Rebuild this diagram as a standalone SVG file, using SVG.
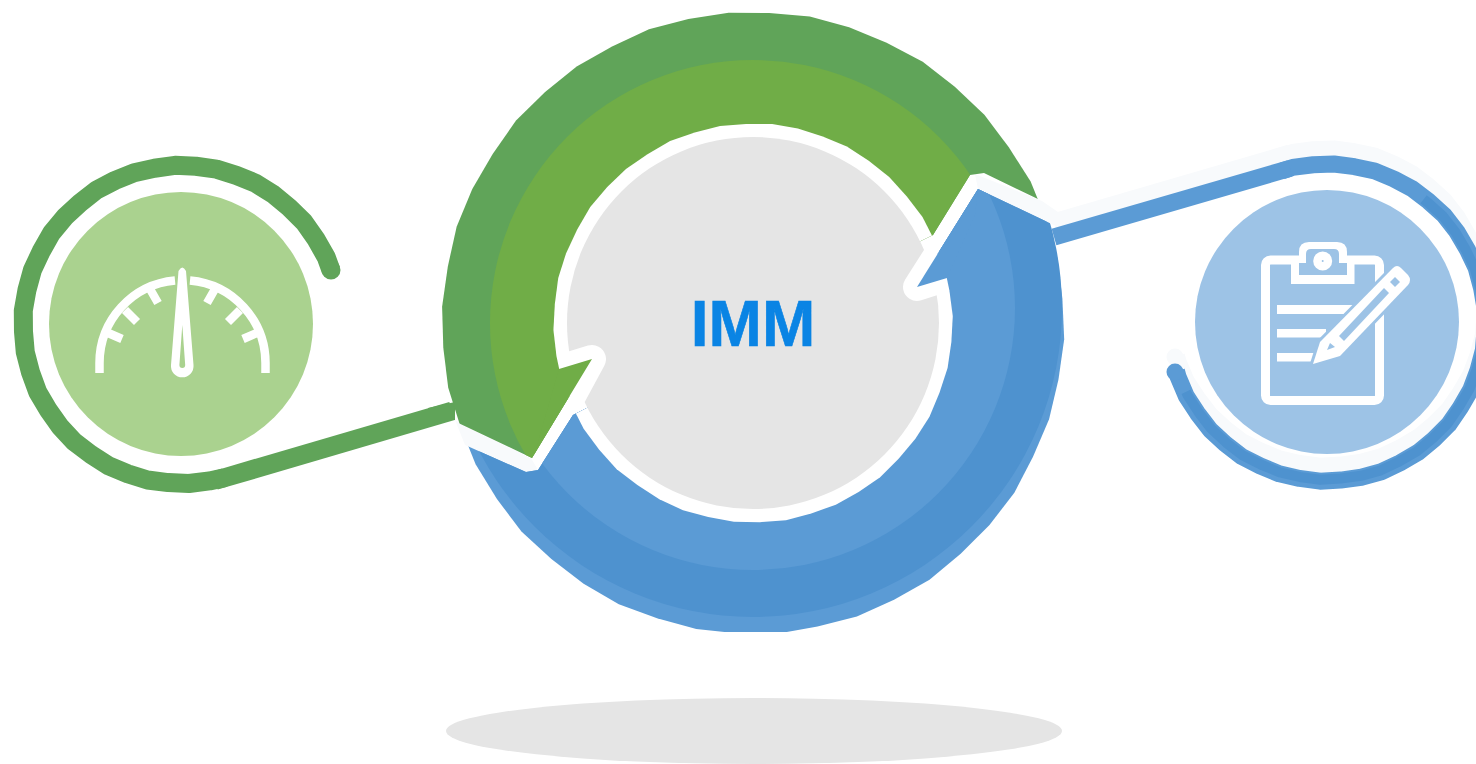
<svg xmlns="http://www.w3.org/2000/svg" width="1476" height="764" viewBox="0 0 1476 764">
<style>
.ring{fill:none;stroke-linejoin:round}
.w{fill:#fff}
.ws{fill:none;stroke:#fff}
.bg{fill:#9dc3e6}
.pale{fill:#f8fafc}
</style>
<defs>
<path id="wob" d="M100.200,0 L99.040,13.040 96.690,25.910 92.200,38.190 86.770,50.100 79.340,60.880 70.570,70.570 61,79.500 49.950,86.520 38.310,92.480 25.830,96.400 13.080,99.340 0,99.900 -13.060,99.240 -25.830,96.400 -38.350,92.570 -50,86.600 -60.760,79.180 -70.850,70.850 -79.260,60.820 -86.690,50.050 -92.200,38.190 -96.780,25.930 -99.040,13.040 -100.100,0 -98.940,-13.020 -96.780,-25.930 -92.390,-38.270 -86.430,-49.900 -79.500,-61 -70.640,-70.640 -60.940,-79.420 -49.900,-86.430 -38.350,-92.570 -25.860,-96.490 -13.060,-99.240 0,-99.800 13.080,-99.340 25.880,-96.590 38.190,-92.200 50.100,-86.770 60.820,-79.260 70.780,-70.780 79.180,-60.760 86.770,-50.100 92.300,-38.230 96.690,-25.910 98.940,-13.020 Z"/>
<clipPath id="gc"><path d="M970,175 L984,173 L1040,200 L1090,224 L1090,-20 L400,-20 L400,420 L452,420 L532,458 L592,359 L753,323 L933,235 Z"/></clipPath>
<clipPath id="bc"><path d="M978,189 L917,287 L753,323 L573,415 L538,470 L526,472 L400,416 L400,632 L1100,632 L1100,247 Z"/></clipPath>
<clipPath id="lr"><path d="M182,324.500 L558,188 L558,-200 L-200,-200 L-200,900 L345,907 Z"/></clipPath>
<clipPath id="rr"><path d="M1327,322.500 L719,520 L719,900 L1600,900 L1600,-300 L1147,-285 Z"/></clipPath>
<clipPath id="rd"><path d="M1327,322.500 L763,600 L763,900 L1800,900 L1800,-172 L1715,-172 Z"/></clipPath>
<clipPath id="rp"><path d="M1327,307.500 L719,505 L719,900 L1600,900 L1600,-300 L1147,-300 Z"/></clipPath>
</defs>
<ellipse id="shadow" cx="754" cy="731" rx="308" ry="33" fill="#e5e5e5"/>
<g id="connectors">
<g clip-path="url(#lr)"><use href="#wob" class="ring" stroke="#60a459" stroke-width="11.950" transform="translate(182,324.500) rotate(20) scale(1.590)"/></g>
<circle cx="331" cy="270" r="9.500" fill="#60a459"/>
<path id="left-connector" fill="none" stroke="#60a459" stroke-width="19" d="M215,480.500 L452,411"/>
<path fill="#60a459" d="M428,408 L455,402 L455,420 L428,420 Z"/>
<g clip-path="url(#rp)"><use href="#wob" class="ring" stroke="#f8fafc" stroke-width="10.700" transform="translate(1327,307.500) rotate(40) scale(1.585)"/></g>
<circle cx="1175" cy="357" r="8.500" class="pale"/>
<path fill="none" stroke="#f8fafc" stroke-width="17" d="M1290,153 L1054,222"/>
<g clip-path="url(#rr)"><use href="#wob" class="ring" stroke="#5b9bd5" stroke-width="10.700" transform="translate(1327,322.500) rotate(40) scale(1.585)"/></g>
<g clip-path="url(#rd)"><use href="#wob" class="ring" stroke="#4e92cf" stroke-width="6.400" transform="translate(1327,322.500) rotate(40) scale(1.570)"/></g>
<circle cx="1175" cy="372" r="8.500" fill="#5b9bd5"/>
<path id="right-connector" fill="none" stroke="#5b9bd5" stroke-width="17" d="M1290,168.300 L1054,237"/>
</g>
<g id="cycle">
<path class="pale" d="M975,174 L1042,201 L1058,212 L1058,227 L978,189 Z"/>
<path class="pale" d="M455,420 L468,428 L531,458 L538,470 L526,472 L465,445 Z"/>
<g id="green-arrow" clip-path="url(#gc)">
<use href="#wob" fill="#60a459" transform="translate(753,323) rotate(3) scale(3.110)"/>
<circle cx="753" cy="323" r="263" fill="#70ad47"/>
<use href="#wob" class="w" transform="translate(753,323) rotate(-2) scale(1.995)"/>
</g>
<g id="blue-arrow" clip-path="url(#bc)">
<use href="#wob" fill="#5b9bd5" transform="translate(753,323) rotate(3) scale(3.110)"/>
<circle cx="753" cy="308" r="309" fill="#4e92cf"/>
<circle cx="753" cy="308" r="262" fill="#5b9bd5"/>
<use href="#wob" class="w" transform="translate(753,323) rotate(-2) scale(1.995)"/>
</g>
<g id="gray-center"><circle cx="753" cy="323" r="186" fill="#e5e5e5"/></g>
<path class="ws" stroke-width="28" stroke-linejoin="round" d="M572,396 L592,359 L566,367"/>
<path class="ws" stroke-width="28" stroke-linejoin="round" d="M938,254 L917,287 L942,279"/>
<path fill="#70ad47" d="M592,359 L559,369 L535,452 L532,458 Z"/>
<path fill="#5b9bd5" d="M978,189 L917,287 L947,278 L975,215 Z"/>
<text x="753" y="346" font-family="'Liberation Sans',Arial,sans-serif" font-weight="700" font-size="64" text-anchor="middle" fill="#0a84e4" stroke="#0a84e4" stroke-width="0.600">IMM</text>
</g>
<g id="gauge-node">
<circle cx="181" cy="324" r="132" fill="#aad28f"/>
<g class="ws" stroke-width="8.500">
<path d="M99.500,373 V363 A83,83 0 0 1 175,280.500"/>
<path d="M265.500,373 V363 A83,83 0 0 0 190,280.500"/>
<path d="M107,332.500 L122,339 M125,310 L137,322 M150,289 L158,303 M258,332.500 L243,339 M240,310 L228,322 M215,289 L207,303"/>
</g>
<path class="w" fill-rule="evenodd" d="M178.500,271 Q182.300,264 186,271 L193.500,365 A11.300,11.300 0 1 1 171,365 Z M182.300,325 L179.400,365 A2.900,2.900 0 1 0 185.200,365 Z"/>
</g>
<g id="clipboard-node">
<circle cx="1327" cy="322" r="132" class="bg"/>
<rect x="1265.500" y="260" width="114" height="140.500" rx="5" class="ws" stroke-width="9"/>
<path class="w" d="M1291,284 H1354.500 V256 H1347 V252 Q1347,242 1337,242 H1309 Q1299,242 1299,252 V256 H1291 Z"/>
<path class="bg" d="M1299,275 H1347 V263 H1339 V254 Q1339,249 1334,249 H1311 Q1306,249 1306,254 V263 H1299 Z"/>
<circle cx="1322.700" cy="261" r="9.500" class="w"/>
<circle cx="1322.700" cy="261" r="1" class="bg"/>
<rect x="1277" y="305" width="76" height="9" class="w"/>
<rect x="1277" y="329" width="49" height="8.500" class="w"/>
<rect x="1277" y="353" width="39" height="8.500" class="w"/>
<path class="w" stroke="#9dc3e6" stroke-width="6" stroke-linejoin="round" d="M1313,364 L1320,342 L1393,268 Q1397,264 1401,268 L1408,275 Q1412,280 1408,285 L1340,356 Z"/>
<path class="w" d="M1313,364 L1320,342 L1393,268 Q1397,264 1401,268 L1408,275 Q1412,280 1408,285 L1340,356 Z"/>
<path class="bg" d="M1339,336 L1384,288 L1389,293 L1344,341 Z"/>
<path class="bg" d="M1390,282 L1395,277 L1400,282 L1395,287 Z"/>
<path class="bg" d="M1327,350 L1330,343 L1335,347 Z"/>
</g>
</svg>
